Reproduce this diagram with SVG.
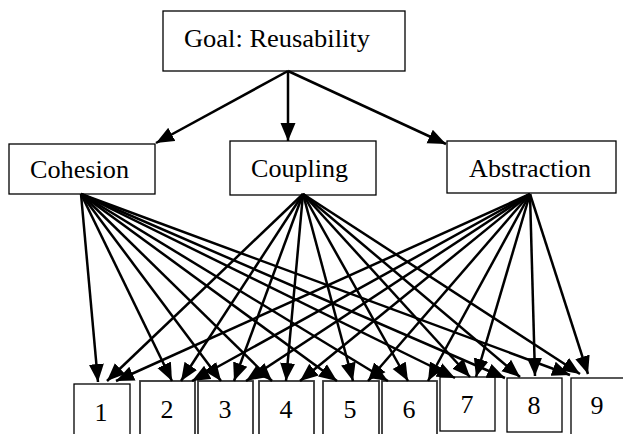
<svg xmlns="http://www.w3.org/2000/svg" width="623" height="434" viewBox="0 0 623 434">
<style>
.box{fill:#fff;stroke:#000;stroke-width:1.3}
.sbox{fill:#fff;stroke:#333;stroke-width:1.8}
.lbl{font-family:"Liberation Serif","Times New Roman",serif;font-size:26px;fill:#000}
.num{font-family:"Liberation Serif","Times New Roman",serif;font-size:26px;fill:#000;text-anchor:middle}
.c{fill:none;stroke:#000;stroke-width:2.5;marker-end:url(#ah)}
</style>
<defs>
<marker id="ah" markerUnits="userSpaceOnUse" markerWidth="20" markerHeight="16" refX="18" refY="8" orient="auto">
<path d="M0,0.5 L18,8 L0,15.5 z" fill="#000"/>
</marker>
</defs>
<rect width="623" height="434" fill="#fff"/>
<g id="goal"><rect class="box" x="163" y="11" width="242" height="60"/><text class="lbl" x="184" y="47" textLength="186" lengthAdjust="spacingAndGlyphs">Goal: Reusability</text></g>
<g id="cohesion"><rect class="box" x="9" y="144" width="146" height="50"/><text class="lbl" x="30" y="178" textLength="99" lengthAdjust="spacingAndGlyphs">Cohesion</text></g>
<g id="coupling"><rect class="box" x="230" y="141" width="146" height="54"/><text class="lbl" x="251" y="177" textLength="97" lengthAdjust="spacingAndGlyphs">Coupling</text></g>
<g id="abstraction"><rect class="box" x="447" y="141" width="169" height="52"/><text class="lbl" x="469" y="177" textLength="122" lengthAdjust="spacingAndGlyphs">Abstraction</text></g>
<g id="n1"><rect class="box" x="74" y="384" width="56" height="60"/><text class="num" x="101" y="421">1</text></g>
<g id="n2"><rect class="sbox" x="140" y="381" width="55" height="60"/><text class="num" x="167" y="418">2</text></g>
<g id="n3"><rect class="sbox" x="198" y="381" width="55" height="60"/><text class="num" x="225" y="418">3</text></g>
<g id="n4"><rect class="sbox" x="259" y="381" width="55" height="60"/><text class="num" x="286" y="418">4</text></g>
<g id="n5"><rect class="sbox" x="323" y="381" width="56" height="60"/><text class="num" x="350" y="418">5</text></g>
<g id="n6"><rect class="sbox" x="382" y="381" width="55" height="60"/><text class="num" x="409" y="418">6</text></g>
<g id="n7"><rect class="box" x="440" y="377" width="55" height="54"/><text class="num" x="467" y="413">7</text></g>
<g id="n8"><rect class="box" x="507" y="378" width="55" height="54"/><text class="num" x="534" y="414">8</text></g>
<g id="n9"><rect class="box" x="571" y="378" width="55" height="60"/><text class="num" x="597" y="414">9</text></g>
<g id="connectors">
<path class="c" d="M288,71 L156,143"/>
<path class="c" d="M288,71 L288,141"/>
<path class="c" d="M288,71 L446,144"/>
<path class="c" d="M81,194 L98,382"/>
<path class="c" d="M81,194 L172,381"/>
<path class="c" d="M81,194 L221,381"/>
<path class="c" d="M81,194 L272,381"/>
<path class="c" d="M81,194 L337,381"/>
<path class="c" d="M81,194 L388,381"/>
<path class="c" d="M81,194 L455,378"/>
<path class="c" d="M81,194 L505,378"/>
<path class="c" d="M81,194 L570,375"/>
<path class="c" d="M303,194 L107,381"/>
<path class="c" d="M303,194 L181,381"/>
<path class="c" d="M303,194 L234,381"/>
<path class="c" d="M303,194 L286,381"/>
<path class="c" d="M303,194 L353,381"/>
<path class="c" d="M303,194 L408,381"/>
<path class="c" d="M303,194 L470,377"/>
<path class="c" d="M303,194 L520,377"/>
<path class="c" d="M303,194 L580,374"/>
<path class="c" d="M530,194 L116,381"/>
<path class="c" d="M530,194 L192,381"/>
<path class="c" d="M530,194 L246,381"/>
<path class="c" d="M530,194 L300,381"/>
<path class="c" d="M530,194 L368,381"/>
<path class="c" d="M530,194 L428,381"/>
<path class="c" d="M530,194 L476,377"/>
<path class="c" d="M530,194 L535,376"/>
<path class="c" d="M530,194 L588,374"/>
</g>
</svg>
